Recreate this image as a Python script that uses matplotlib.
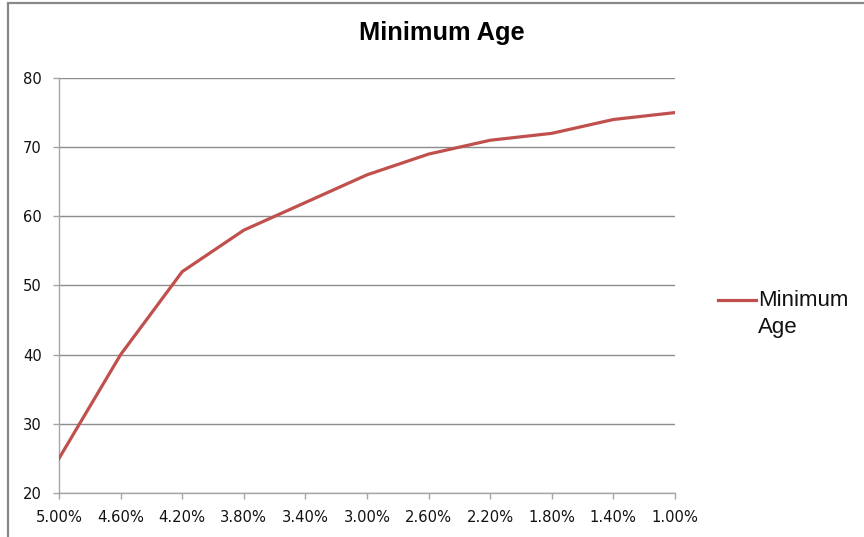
import matplotlib
matplotlib.use("Agg")
import matplotlib.pyplot as plt
from matplotlib.lines import Line2D
from matplotlib.patches import Rectangle

# interest rate categories and the minimum age at each one
rates = ["5.00%", "4.60%", "4.20%", "3.80%", "3.40%", "3.00%",
         "2.60%", "2.20%", "1.80%", "1.40%", "1.00%"]
min_age = [25, 40, 52, 58, 62, 66, 69, 71, 72, 74, 75]
y_ticks = [20, 30, 40, 50, 60, 70, 80]

line_color = "#C0504D"
grid_color = "#8C8C8C"
axis_color = "#A6A6A6"

fig = plt.figure(figsize=(8.64, 5.37), dpi=100)
ax = fig.add_axes([59 / 864, 44 / 537, 616 / 864, 415 / 537])

x = list(range(len(rates)))
ax.plot(x, min_age, color=line_color, linewidth=2.3, solid_joinstyle="round",
        zorder=3)

ax.set_xlim(0, len(rates) - 1)
ax.set_ylim(20, 80)
ax.set_xticks(x)
ax.set_xticklabels(rates)
ax.set_yticks(y_ticks)

ax.grid(axis="y", color=grid_color, linewidth=1.0)
ax.set_axisbelow(True)
for side in ["top", "right"]:
    ax.spines[side].set_visible(False)
for side in ["left", "bottom"]:
    ax.spines[side].set_color(axis_color)
    ax.spines[side].set_linewidth(1.0)

ax.tick_params(axis="both", direction="out", length=4.5, width=1.0,
               color=axis_color, labelsize=10.6, labelcolor="#111111")
ax.tick_params(axis="x", pad=8)
ax.tick_params(axis="y", pad=8)

fig.text(442 / 864, 1 - 33 / 537, "Minimum Age", ha="center", va="center",
         family="Liberation Sans", fontweight="bold", fontsize=18.3)

# legend drawn by hand so the swatch sits next to the first text line
fig.add_artist(Line2D([718 / 864, 756 / 864], [1 - 300 / 537, 1 - 300 / 537],
                      color=line_color, linewidth=2.3,
                      transform=fig.transFigure))
fig.text(758 / 864, 1 - 300 / 537, "Minimum", ha="left", va="center",
         family="Liberation Sans", fontsize=16, color="#111111")
fig.text(758 / 864, 1 - 327 / 537, "Age", ha="left", va="center",
         family="Liberation Sans", fontsize=16, color="#111111")

# outer chart frame, cut off at the right and bottom edges
fig.add_artist(Rectangle((8 / 864, -0.1), 1.2, 1.1 - 3 / 537,
                         transform=fig.transFigure, fill=False,
                         edgecolor="#888888", linewidth=1.6))

fig.savefig("out.png", dpi=100)
